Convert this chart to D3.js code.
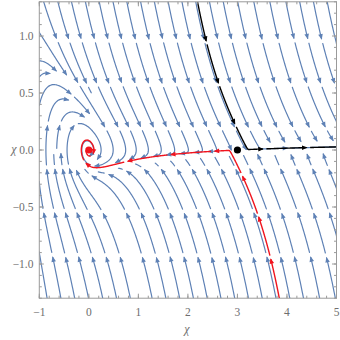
<!DOCTYPE html>
<html><head><meta charset="utf-8">
<script src="https://cdn.jsdelivr.net/npm/d3@7"></script>
<style>body{margin:0;background:#fff} svg{display:block}</style>
</head><body>
<svg id="c" width="340" height="340"></svg>
<script>
// ---------------- data ----------------
const xDomain = [-1, 5];
const yDomain = [-1.3, 1.3];
const xTicks = [-1, 0, 1, 2, 3, 4, 5];
const xTickLabels = ["\u22121", "0", "1", "2", "3", "4", "5"];
const yTicks = [-1.0, -0.5, 0.0, 0.5, 1.0];
const yTickLabels = ["\u22121.0", "\u22120.5", "0.0", "0.5", "1.0"];
const xMinorStep = 0.2, yMinorStep = 0.1;
const axisLabels = ["\u03C7", "\u03C7"];
// fixed points: stable focus (origin) and saddle (hilltop)
const fixedX = [0, 3];
const fixedY = [0, 0];
// restoring force  F(x)  (x'' = -gamma x' - F)
const forceRight = [0.167, 1.44, 3.0];     // amplitude, softening, hilltop position
const forceLeft = [0.5, 1.0];              // stiffness, cubic stiffening
// friction gamma = sqrt(k*y^2 + G(x))
const friction = [2.5, 0.03, 0.87, 1.5];   // kinetic coeff, base, plateau, rise scale
// trajectories through the saddle: [offset along stable dir, offset along unstable dir]
const blackOffset = [0.25, 0.2];
const redOffset = [0.25, -0.15];

// ---------------- model ----------------
function force(x) {
  if (x >= 0) { const [A, B, X0] = forceRight; return A * x * (X0 - x) / ((1 + B * x) ** 2); }
  const [k, c] = forceLeft; return k * x * (1 + c * x * x);
}
function G(x) {
  const [, g0, g1, s] = friction;
  if (x <= 0) return g0;
  const q = x * x; return g0 + (g1 - g0) * q / (q + s);
}
function field(x, y) {
  const g = Math.sqrt(friction[0] * y * y + G(x));
  return [y, -g * y - force(x)];
}

// ---------------- scales ----------------
const svg = d3.select("#c");
const X = d3.scaleLinear().domain(xDomain).range([39.3, 336.5]);
const Y = d3.scaleLinear().domain(yDomain).range([298.2, 1.8]);
const sxp = (X.range()[1] - X.range()[0]) / (xDomain[1] - xDomain[0]);
const syp = (Y.range()[0] - Y.range()[1]) / (yDomain[1] - yDomain[0]);

function dir(x, y) {
  const v = field(x, y);
  const L = Math.hypot(v[0] * sxp, v[1] * syp);
  if (!(L > 1e-14)) return null;
  return [v[0] / L, v[1] / L];
}
function rk4(p, h) {
  const k1 = dir(p[0], p[1]); if (!k1) return null;
  const k2 = dir(p[0] + 0.5 * h * k1[0], p[1] + 0.5 * h * k1[1]); if (!k2) return null;
  const k3 = dir(p[0] + 0.5 * h * k2[0], p[1] + 0.5 * h * k2[1]); if (!k3) return null;
  const k4 = dir(p[0] + h * k3[0], p[1] + h * k3[1]); if (!k4) return null;
  if (k1[0] * k4[0] * sxp * sxp + k1[1] * k4[1] * syp * syp < 0) return null;
  return [p[0] + h * (k1[0] + 2 * k2[0] + 2 * k3[0] + k4[0]) / 6,
          p[1] + h * (k1[1] + 2 * k2[1] + 2 * k3[1] + k4[1]) / 6];
}
function inside(p) {
  return p[0] >= xDomain[0] && p[0] <= xDomain[1] && p[1] >= yDomain[0] && p[1] <= yDomain[1];
}
function clampIn(p) {
  return [Math.max(xDomain[0], Math.min(xDomain[1], p[0])), Math.max(yDomain[0], Math.min(yDomain[1], p[1]))];
}
function nearFixed(p, d) {
  for (let i = 0; i < fixedX.length; i++) {
    if (Math.hypot(X(p[0]) - X(fixedX[i]), Y(p[1]) - Y(fixedY[i])) < d) return true;
  }
  return false;
}

// ---------------- evenly spaced streamlines ----------------
const dsep = 13.5, dtest = 6.2, cell = 14;
const grid = new Map();
const gkey = (i, j) => i * 10000 + j;
function nearCommitted(p, d) {
  const px = X(p[0]), py = Y(p[1]);
  const i = Math.floor(px / cell), j = Math.floor(py / cell), r = Math.ceil(d / cell);
  for (let di = -r; di <= r; di++) for (let dj = -r; dj <= r; dj++) {
    const arr = grid.get(gkey(i + di, j + dj)); if (!arr) continue;
    for (const q of arr) if (Math.hypot(px - q[0], py - q[1]) < d) return true;
  }
  return false;
}
function commit(line) {
  for (const p of line) {
    const px = X(p[0]), py = Y(p[1]);
    const k = gkey(Math.floor(px / cell), Math.floor(py / cell));
    if (!grid.has(k)) grid.set(k, []);
    grid.get(k).push([px, py]);
  }
}
function trace(seed) {
  const own = new Map();
  const addOwn = (p, s) => {
    const px = X(p[0]), py = Y(p[1]);
    const k = gkey(Math.floor(px / cell), Math.floor(py / cell));
    if (!own.has(k)) own.set(k, []);
    own.get(k).push([px, py, s]);
  };
  const hitsOwn = (p, s) => {
    const px = X(p[0]), py = Y(p[1]);
    const i = Math.floor(px / cell), j = Math.floor(py / cell);
    for (let di = -1; di <= 1; di++) for (let dj = -1; dj <= 1; dj++) {
      const arr = own.get(gkey(i + di, j + dj)); if (!arr) continue;
      for (const q of arr) if (Math.abs(q[2] - s) > 30 && Math.hypot(px - q[0], py - q[1]) < dtest) return true;
    }
    return false;
  };
  addOwn(seed, 0);
  const halves = {};
  let fwdBoundary = false;
  for (const sign of [-1, 1]) {
    const out = []; let p = seed;
    for (let s = 1; s < 3000; s++) {
      let np = rk4(p, sign);
      if (!np) break;
      if (!inside(np)) { out.push(clampIn(np)); if (sign > 0) fwdBoundary = true; break; }
      if (nearFixed(np, 2.5)) break;
      if (nearCommitted(np, dtest)) break;
      if (hitsOwn(np, sign * s)) break;
      out.push(np); addOwn(np, sign * s); p = np;
    }
    halves[sign] = out;
  }
  return { pts: halves[-1].reverse().concat([seed], halves[1]), endBoundary: fwdBoundary };
}
function lineLen(pts) {
  let L = 0;
  for (let i = 1; i < pts.length; i++) L += Math.hypot((pts[i][0] - pts[i - 1][0]) * sxp, (pts[i][1] - pts[i - 1][1]) * syp);
  return L;
}
const lines = [];
const queue = [];
function seedOK(p) { return inside(p) && !nearFixed(p, 4) && !nearCommitted(p, dsep * 0.92); }
function processQueue() {
  while (queue.length) {
    const p = queue.shift();
    if (!seedOK(p)) continue;
    const t = trace(p);
    if (lineLen(t.pts) < 8) continue;
    commit(t.pts); lines.push(t);
    const pts = t.pts;
    for (let i = 2; i < pts.length - 2; i += 4) {
      const a = pts[i - 1], b = pts[i + 1];
      let tx = (b[0] - a[0]) * sxp, ty = (b[1] - a[1]) * syp;
      const n = Math.hypot(tx, ty); if (n === 0) continue;
      tx /= n; ty /= n;
      for (const sg of [1, -1]) {
        queue.push([pts[i][0] - sg * ty * dsep / sxp, pts[i][1] + sg * tx * dsep / syp]);
      }
    }
  }
}
for (let py = 6; py < 296; py += dsep) {
  for (let px = 45; px < 335; px += dsep) {
    queue.push([X.invert(px), Y.invert(py)]);
    processQueue();
  }
}

// ---------------- drawing helpers ----------------
const rowY0 = 38, rowDY = 44;
function cutLine(pts, opt) {
  const P = pts.map(d => [X(d[0]), Y(d[1])]);
  const segs = []; let cur = [P[0]]; let acc = 0; let i = 1;
  const rowOf = py => Math.floor((py - rowY0) / rowDY);
  let remaining = 0; for (let k = 1; k < P.length; k++) remaining += Math.hypot(P[k][0] - P[k - 1][0], P[k][1] - P[k - 1][1]);
  let walked = 0;
  while (i < P.length) {
    const a = P[i - 1], b = P[i];
    const d = Math.hypot(b[0] - a[0], b[1] - a[1]);
    acc += d; walked += d; cur.push(b);
    const crossed = opt.rows && rowOf(a[1]) !== rowOf(b[1]);
    if (((crossed && acc >= opt.minSeg) || acc >= opt.maxSeg) && remaining - walked > opt.minTail) {
      segs.push({ pts: cur, arrow: true });
      let g = 0; i++;
      while (i < P.length && g < opt.gap) { const dd = Math.hypot(P[i][0] - P[i - 1][0], P[i][1] - P[i - 1][1]); g += dd; walked += dd; i++; }
      cur = [P[i - 1]]; acc = 0; continue;
    }
    i++;
  }
  if (cur.length > 1) segs.push({ pts: cur, arrow: opt.endArrow && acc > 10 });
  return segs;
}
function arrowHead(seg, L, w) {
  const p = seg.pts; const E = p[p.length - 1];
  let k = p.length - 2, dist = 0;
  while (k > 0 && dist < 4) { dist = Math.hypot(E[0] - p[k][0], E[1] - p[k][1]); if (dist >= 4) break; k--; }
  const Q = p[Math.max(0, k)];
  let dx = E[0] - Q[0], dy = E[1] - Q[1]; const n = Math.hypot(dx, dy) || 1; dx /= n; dy /= n;
  const tip = [E[0] + dx * 1.0, E[1] + dy * 1.0];
  const base = [E[0] - dx * (L - 1), E[1] - dy * (L - 1)];
  return [tip, [base[0] - dy * w, base[1] + dx * w], [base[0] + dy * w, base[1] - dx * w]];
}

svg.append("defs").append("clipPath").attr("id", "plotclip")
  .append("rect").attr("x", X(xDomain[0])).attr("y", Y(yDomain[1]))
  .attr("width", X(xDomain[1]) - X(xDomain[0])).attr("height", Y(yDomain[0]) - Y(yDomain[1]));
const plot = svg.append("g").attr("clip-path", "url(#plotclip)");
const path = d3.line();
const blue = "#5E81B5";

const gStream = plot.append("g");
for (const t of lines) {
  const segs = cutLine(t.pts, { rows: true, minSeg: 16, maxSeg: 46, gap: 4, minTail: 6, endArrow: !t.endBoundary });
  for (const s of segs) {
    gStream.append("path").attr("d", path(s.pts)).attr("fill", "none").attr("stroke", blue)
      .attr("stroke-width", 1.2).attr("stroke-linecap", "round");
    if (s.arrow && s.pts.length > 2) gStream.append("path").attr("d", "M" + arrowHead(s, 5.5, 2.3).join("L") + "Z").attr("fill", blue);
  }
}

// ---------------- trajectories through the saddle ----------------
const S = [fixedX[1], fixedY[1]];
const dF = (force(S[0] + 1e-5) - force(S[0] - 1e-5)) / 2e-5;
const gs = Math.sqrt(G(S[0]));
const disc = Math.sqrt(gs * gs - 4 * dF);
const ls = (-gs - disc) / 2, lu = (-gs + disc) / 2;
const nv = v => { const n = Math.hypot(v[0], v[1]); return [v[0] / n, v[1] / n]; };
const vs = nv([1, ls]), vu = nv([1, lu]);
function trajectory(P) {
  const res = {};
  for (const sign of [-1, 1]) {
    const out = []; let p = P;
    for (let s = 0; s < 8000; s++) {
      const np = rk4(p, sign * 0.6);
      if (!np) break;
      if (!inside(np)) { out.push(clampIn(np)); break; }
      if (Math.hypot(X(np[0]) - X(fixedX[0]), Y(np[1]) - Y(fixedY[0])) < 3) { out.push(np); break; }
      out.push(np); p = np;
    }
    res[sign] = out;
  }
  return res[-1].reverse().concat([P], res[1]);
}
const blackStart = [S[0] - blackOffset[0] * vs[0] + blackOffset[1] * vu[0], S[1] - blackOffset[0] * vs[1] + blackOffset[1] * vu[1]];
const redStart = [S[0] + redOffset[0] * vs[0] + redOffset[1] * vu[0], S[1] + redOffset[0] * vs[1] + redOffset[1] * vu[1]];
for (const [start, col] of [[redStart, "#F0141E"], [blackStart, "#000000"]]) {
  const pts = trajectory(start);
  const segs = cutLine(pts, { rows: false, minSeg: 30, maxSeg: 40, gap: 3, minTail: 10, endArrow: false });
  const g = plot.append("g");
  for (const s of segs) {
    g.append("path").attr("d", path(s.pts)).attr("fill", "none").attr("stroke", col).attr("stroke-width", 1.4);
    if (s.arrow && s.pts.length > 2) g.append("path").attr("d", "M" + arrowHead(s, 5.5, 2.3).join("L") + "Z").attr("fill", col);
  }
}
// fixed-point dots
const dotColors = ["#F0141E", "#000000"];
svg.append("g").selectAll("circle").data(fixedX).join("circle")
  .attr("cx", d => X(d)).attr("cy", (d, i) => Y(fixedY[i])).attr("r", 3.6)
  .attr("fill", (d, i) => dotColors[i]);

// ---------------- frame, ticks, labels ----------------
const frameCol = "#9a9a9a", labCol = "#6e6e6e";
const x0 = X(xDomain[0]), x1 = X(xDomain[1]), y0 = Y(yDomain[0]), y1 = Y(yDomain[1]);
const fr = svg.append("g");
fr.append("rect").attr("x", x0).attr("y", y1).attr("width", x1 - x0).attr("height", y0 - y1)
  .attr("fill", "none").attr("stroke", frameCol).attr("stroke-width", 1);
const xMinor = d3.range(xDomain[0], xDomain[1] + 1e-9, xMinorStep);
const yMinor = d3.range(-1.3, 1.3 + 1e-9, yMinorStep);
function tickX(v, len) {
  fr.append("line").attr("x1", X(v)).attr("x2", X(v)).attr("y1", y0).attr("y2", y0 - len).attr("stroke", frameCol);
  fr.append("line").attr("x1", X(v)).attr("x2", X(v)).attr("y1", y1).attr("y2", y1 + len).attr("stroke", frameCol);
}
function tickY(v, len) {
  fr.append("line").attr("y1", Y(v)).attr("y2", Y(v)).attr("x1", x0).attr("x2", x0 + len).attr("stroke", frameCol);
  fr.append("line").attr("y1", Y(v)).attr("y2", Y(v)).attr("x1", x1).attr("x2", x1 - len).attr("stroke", frameCol);
}
xMinor.forEach(v => tickX(v, 2.5));
xTicks.forEach(v => tickX(v, 4.5));
yMinor.forEach(v => tickY(v, 2.5));
yTicks.forEach(v => tickY(v, 4.5));
const font = "'Liberation Serif','DejaVu Serif',serif";
svg.append("g").selectAll("text").data(xTicks).join("text")
  .attr("x", d => X(d)).attr("y", 315.5).attr("text-anchor", "middle")
  .attr("font-family", font).attr("font-size", 11.5).attr("fill", labCol)
  .text((d, i) => xTickLabels[i]);
svg.append("g").selectAll("text").data(yTicks).join("text")
  .attr("x", 33.5).attr("y", d => Y(d) + 4).attr("text-anchor", "end")
  .attr("font-family", font).attr("font-size", 11.5).attr("fill", labCol)
  .text((d, i) => yTickLabels[i]);
svg.append("text").attr("x", 187).attr("y", 333).attr("text-anchor", "middle")
  .attr("font-family", font).attr("font-style", "italic").attr("font-size", 12).attr("fill", labCol).text(axisLabels[0]);
svg.append("text").attr("x", 14).attr("y", 153).attr("text-anchor", "middle")
  .attr("font-family", font).attr("font-style", "italic").attr("font-size", 12).attr("fill", labCol).text(axisLabels[1]);
</script>
</body></html>
